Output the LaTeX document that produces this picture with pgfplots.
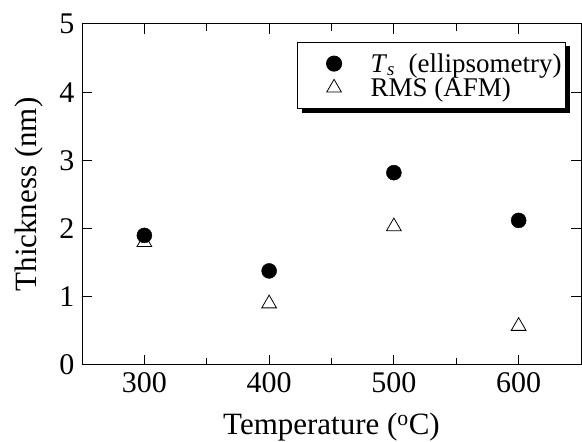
\documentclass[border=0pt]{standalone}
\usepackage{fontspec}
\setmainfont{Liberation Serif}
\usepackage{pgfplots}
\pgfplotsset{compat=1.18}
\usetikzlibrary{shadows}
\pgfplotsset{mylegimg/.style={legend image code/.code={\path (-34pt,0pt) (16pt,0pt); \draw[#1] plot coordinates {(0pt,0pt)};}}}
\begin{document}
\begin{tikzpicture}
\begin{axis}[
  scale only axis, width=499pt, height=341pt,
  xmin=250, xmax=650, ymin=0, ymax=5,
  xtick={300,400,500,600}, minor xtick={350,450,550},
  ytick={0,1,2,3,4,5},
  tick align=inside, major tick length=10pt, minor tick length=7pt,
  axis line style={line width=1pt},
  every tick/.style={line width=1pt, black},
  /pgf/number format/assume math mode=true,
  tick label style={font=\fontsize{30}{30}\selectfont},
  xticklabel style={yshift=-4pt},
  yticklabel style={xshift=-4pt},
  xlabel={Temperature (\textsuperscript{o}C)},
  ylabel={Thickness (nm)},
  label style={font=\fontsize{31}{31}\selectfont},
  xlabel style={yshift=-13pt},
  ylabel style={yshift=10pt},
  legend cell align=left,
  legend style={at={(rel axis cs:1,1)}, anchor=north east, xshift=-15pt, yshift=-18pt,
    draw=black, line width=1pt, fill=white,
    drop shadow={shadow xshift=4pt, shadow yshift=-4pt, opacity=1, fill=black},
    font=\fontsize{27}{27}\selectfont, row sep=0pt, inner xsep=2pt, inner ysep=9pt},
]
\addplot[only marks, mark=*, mark size=7.5pt, black, mylegimg] coordinates {(300,1.90) (400,1.38) (500,2.82) (600,2.12)};
\addlegendentry{\hspace{18pt}\textit{T}\textsubscript{\textit{s}}\hspace{0.5em}(ellipsometry)}
\addplot[only marks, mark=triangle, mark size=8.5pt, black, line width=0.8pt, mylegimg] coordinates {(300,1.80) (400,0.90) (500,2.03) (600,0.57)};
\addlegendentry{\hspace{18pt}RMS (AFM)}
\end{axis}
\pgfresetboundingbox
\path[use as bounding box] ([xshift=-82pt,yshift=-77pt]current axis.south west) rectangle ([xshift=1pt,yshift=24pt]current axis.north east);
\end{tikzpicture}
\end{document}
